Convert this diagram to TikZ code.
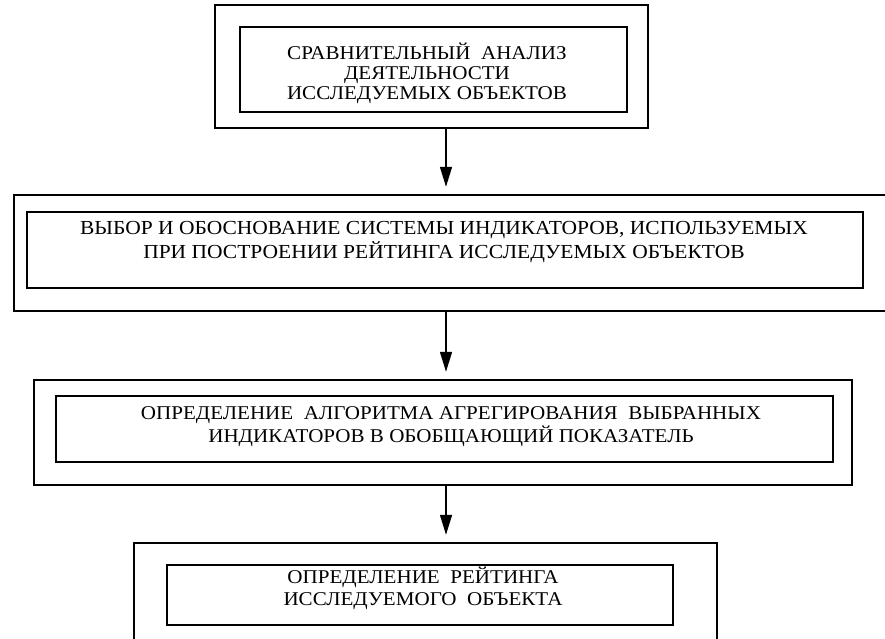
\documentclass[tikz,border=0pt]{standalone}
\usepackage{fontspec}
\setmainfont[FakeStretch=1.08]{Liberation Serif}
\usetikzlibrary{arrows.meta}
\begin{document}
\begin{tikzpicture}[x=1pt,y=-1pt,
  frame/.style={draw=black, line width=2.4pt, rectangle, inner sep=0pt},
  lbl/.style={align=center, inner sep=0pt, font=\fontsize{19.5}{20}\selectfont},
  arr/.style={line width=1.4pt, -{Triangle[width=12pt,length=20pt]}, shorten >=7pt}]
\useasboundingbox (0,0) rectangle (885,638);
\fill[white] (0,0) rectangle (885,638);
% box 1
\node[frame, minimum width=433pt, minimum height=123pt] (o1) at (431.5,66.5) {};
\node[frame, minimum width=387pt, minimum height=85pt] (i1) at (433.5,69.5) {};
\node[lbl] (t1) at (427,73) {СРАВНИТЕЛЬНЫЙ\ \ АНАЛИЗ\\ДЕЯТЕЛЬНОСТИ\\ИССЛЕДУЕМЫХ ОБЪЕКТОВ};
% box 2
\node[frame, minimum width=872pt, minimum height=116pt] (o2) at (450,253) {};
\node[frame, minimum width=836pt, minimum height=76pt] (i2) at (445,250) {};
\node[lbl, font=\fontsize{19.9}{24}\selectfont] (t2) at (444,242) {ВЫБОР И ОБОСНОВАНИЕ СИСТЕМЫ ИНДИКАТОРОВ, ИСПОЛЬЗУЕМЫХ\\ПРИ ПОСТРОЕНИИ РЕЙТИНГА ИССЛЕДУЕМЫХ ОБЪЕКТОВ};
% box 3
\node[frame, minimum width=818pt, minimum height=105pt] (o3) at (443,432.5) {};
\node[frame, minimum width=777pt, minimum height=66pt] (i3) at (444.5,429) {};
\node[lbl, font=\fontsize{19.5}{23}\selectfont] (t3) at (451,427) {ОПРЕДЕЛЕНИЕ\ \ АЛГОРИТМА АГРЕГИРОВАНИЯ\ \ ВЫБРАННЫХ\\ИНДИКАТОРОВ В ОБОБЩАЮЩИЙ ПОКАЗАТЕЛЬ};
% box 4
\node[frame, minimum width=583pt, minimum height=104pt] (o4) at (425.5,595) {};
\node[frame, minimum width=506pt, minimum height=60pt] (i4) at (420,595) {};
\node[lbl, font=\fontsize{19.5}{22}\selectfont] (t4) at (423,588) {ОПРЕДЕЛЕНИЕ\ \ РЕЙТИНГА\\ИССЛЕДУЕМОГО\ \ ОБЪЕКТА};
% arrows
\coordinate (ax) at (446,0);
\draw[arr] (o1.south -| ax) -- (o2.north -| ax);
\draw[arr] (o2.south -| ax) -- (o3.north -| ax);
\draw[arr] (o3.south -| ax) -- (o4.north -| ax);
\end{tikzpicture}
\end{document}
